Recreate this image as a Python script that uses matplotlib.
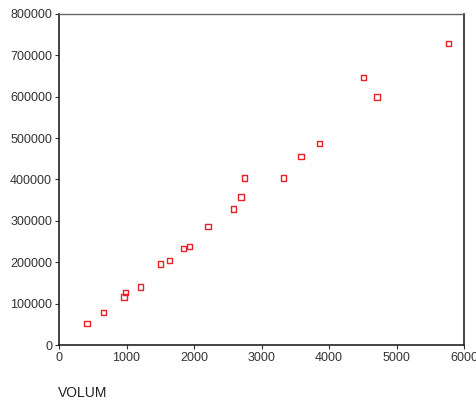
import matplotlib
matplotlib.use('Agg')
from matplotlib import pyplot as plt

plt.rcParams['font.family'] = ['Liberation Sans', 'DejaVu Sans']

# datos
volum = [411, 657, 963, 983, 1210, 1506, 1635, 1842, 1931, 2207,
         2583, 2696, 2750, 3323, 3585, 3862, 4514, 4711, 5773]
valor = [52400, 79000, 116000, 127000, 140000, 195800, 203800, 233000, 238000, 286000,
         328700, 357700, 403000, 403000, 456000, 487000, 647000, 599000, 729000]

fig = plt.figure(figsize=(4.76, 4.03), dpi=100)
ax = fig.add_axes([59/476, 1 - 345/403, (464-59)/476, (345-14)/403])

ax.scatter(volum, valor, marker='s', s=16, facecolors='none', edgecolors='#e8202a', linewidths=1.0)

ax.set_xlim(0, 6000)
ax.set_ylim(0, 800000)
ax.set_xticks([0, 1000, 2000, 3000, 4000, 5000, 6000])
ax.set_yticks([0, 100000, 200000, 300000, 400000, 500000, 600000, 700000, 800000])
ax.tick_params(direction='out', length=3, width=0.8, colors='#333333', labelsize=9, pad=2)

for s in ['left', 'bottom', 'right']:
    ax.spines[s].set_color('#222222')
    ax.spines[s].set_linewidth(1.2)
ax.spines['top'].set_color('#666666')
ax.spines['top'].set_linewidth(1.0)

fig.text(58/476, 1 - 393/403, 'VOLUM', fontsize=10, color='#222222', va='center', ha='left')

plt.savefig('out.png', dpi=100)
